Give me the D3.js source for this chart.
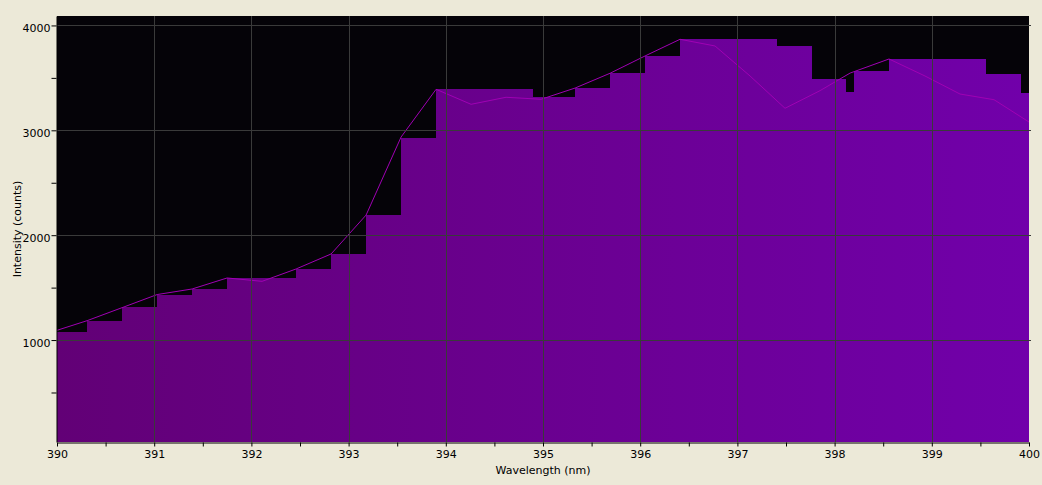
<!DOCTYPE html>
<html>
<head>
<meta charset="utf-8">
<script src="https://cdn.jsdelivr.net/npm/d3@7"></script>
<style>
  html, body { margin: 0; padding: 0; background: #ece9d8; }
  svg { display: block; }
  text { font-family: "DejaVu Sans", sans-serif; font-size: 11px; fill: #000; }
</style>
</head>
<body>
<svg id="chart" width="1042" height="485"></svg>
<script>
// ---- data ----
const barEdges = [390.00, 390.31, 390.67, 391.03, 391.39, 391.75, 392.46, 392.82, 393.18, 393.54,
                  393.90, 394.90, 395.33, 395.69, 396.05, 396.41, 397.41, 397.77, 398.12, 398.20,
                  398.56, 399.56, 399.92, 400.00];
const barValues = [1080, 1182, 1315, 1432, 1490, 1595, 1678, 1821, 2192, 2930,
                   3394, 3318, 3403, 3546, 3709, 3871, 3804, 3489, 3365, 3561,
                   3680, 3537, 3356];
const lineWavelengths = [390.00, 390.31, 390.67, 391.03, 391.39, 391.75, 392.11, 392.46, 392.82, 393.18,
                         393.54, 393.90, 394.26, 394.62, 394.98, 395.33, 395.69, 396.05, 396.41, 396.77,
                         397.13, 397.49, 397.85, 398.16, 398.56, 398.93, 399.29, 399.64, 400.00];
const lineValues = [1093, 1185, 1309, 1434, 1487, 1592, 1560, 1678, 1821, 2192,
                    2936, 3391, 3248, 3315, 3296, 3403, 3544, 3709, 3868, 3804,
                    3518, 3210, 3378, 3546, 3680, 3518, 3346, 3292, 3079];
const xTicks = [390, 390.5, 391, 391.5, 392, 392.5, 393, 393.5, 394, 394.5, 395, 395.5,
                396, 396.5, 397, 397.5, 398, 398.5, 399, 399.5, 400];
const yTicks = [500, 1000, 1500, 2000, 2500, 3000, 3500, 4000];
const xGrid = [391, 392, 393, 394, 395, 396, 397, 398, 399];
const yGrid = [1000, 2000, 3000, 4000];
const xTitle = "Wavelength (nm)";
const yTitle = "Intensity (counts)";

// ---- layout ----
const L = 57, R = 1029, T = 16, B = 442;
const svg = d3.select("#chart");
const x = d3.scaleLinear().domain([390, 400]).range([L, R]);
const y = d3.scaleLinear().domain([28, 4090]).range([B, T]);

const defs = svg.append("defs");
const grad = defs.append("linearGradient").attr("id", "fillGrad")
  .attr("gradientUnits", "userSpaceOnUse")
  .attr("x1", L).attr("x2", R).attr("y1", 0).attr("y2", 0);
grad.append("stop").attr("offset", "0%").attr("stop-color", "#620076");
grad.append("stop").attr("offset", "50%").attr("stop-color", "#6a0090");
grad.append("stop").attr("offset", "100%").attr("stop-color", "#7100aa");
defs.append("clipPath").attr("id", "plotClip").append("rect")
  .attr("x", L).attr("y", T).attr("width", R - L).attr("height", B - T);

// plot background
svg.append("rect").attr("x", L).attr("y", T).attr("width", R - L).attr("height", B - T)
  .attr("fill", "#050308");

const plot = svg.append("g").attr("clip-path", "url(#plotClip)");

// bars (step histogram)
plot.append("g").selectAll("rect").data(barValues).join("rect")
  .attr("x", (d, i) => Math.round(x(barEdges[i])))
  .attr("width", (d, i) => Math.round(x(barEdges[i + 1])) - Math.round(x(barEdges[i])))
  .attr("y", d => Math.round(y(d)))
  .attr("height", d => B - Math.round(y(d)))
  .attr("fill", "url(#fillGrad)")
  .attr("shape-rendering", "crispEdges");

// grid
const grid = svg.append("g").attr("shape-rendering", "crispEdges");
grid.selectAll(".vg").data(xGrid).join("line")
  .attr("x1", d => Math.round(x(d)) + 0.5).attr("x2", d => Math.round(x(d)) + 0.5)
  .attr("y1", T).attr("y2", B)
  .attr("stroke", "#3a3a3a").attr("stroke-width", 1);
grid.selectAll(".hg").data(yGrid).join("line")
  .attr("x1", L).attr("x2", R + 2)
  .attr("y1", d => Math.round(y(d)) + 0.5).attr("y2", d => Math.round(y(d)) + 0.5)
  .attr("stroke", "#3a3a3a").attr("stroke-width", 1);

// line
const lineData = lineWavelengths.map((w, i) => [w, lineValues[i]]);
plot.append("path").datum(lineData)
  .attr("d", d3.line().x(d => x(d[0])).y(d => y(d[1])))
  .attr("fill", "none").attr("stroke", "#a000b4").attr("stroke-width", 1);

// axes
const yAxis = d3.axisLeft(y).tickValues(yTicks).tickSize(5).tickSizeOuter(0)
  .tickFormat(d => d % 1000 === 0 ? d : "");
const gy = svg.append("g").attr("transform", `translate(${L - 0.5},0)`).call(yAxis);
gy.selectAll("text").attr("x", -6).attr("dy", "0.55em").attr("font-family", "DejaVu Sans").attr("font-size", 11);

const xAxis = d3.axisBottom(x).tickValues(xTicks).tickSize(4).tickSizeOuter(0)
  .tickFormat(d => Number.isInteger(d) ? d : "");
const gx = svg.append("g").attr("transform", `translate(0,${B + 0.5})`).call(xAxis);
gx.selectAll("text").attr("y", 8).attr("font-family", "DejaVu Sans").attr("font-size", 11);

svg.selectAll(".domain").attr("stroke", "#000");
svg.selectAll(".tick line").attr("stroke", "#000");

// titles
svg.append("text").attr("x", (L + R) / 2).attr("y", 474).attr("text-anchor", "middle").text(xTitle);
svg.append("text").attr("transform", `translate(21,${(T + B) / 2}) rotate(-90)`)
  .attr("text-anchor", "middle").text(yTitle);
</script>
</body>
</html>
